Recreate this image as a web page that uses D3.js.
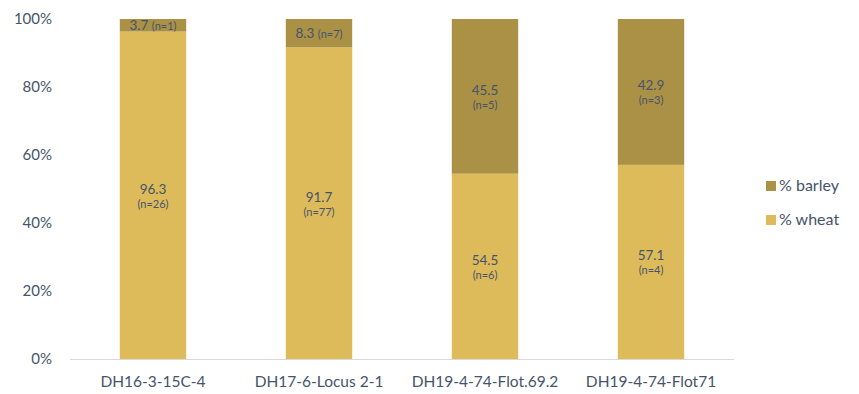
<!DOCTYPE html>
<html>
<head>
<meta charset="utf-8">
<script src="https://cdn.jsdelivr.net/npm/d3@7"></script>
<style>
  body { margin: 0; background: #fff; }
  svg { display: block; font-family: Lato, "Open Sans", sans-serif; }
</style>
</head>
<body>
<svg id="chart" width="859" height="394"></svg>
<script>
// chart data
const categories = ["DH16-3-15C-4", "DH17-6-Locus 2-1", "DH19-4-74-Flot.69.2", "DH19-4-74-Flot71"];
const wheatPct = [96.3, 91.7, 54.5, 57.1];
const barleyPct = [3.7, 8.3, 45.5, 42.9];
const wheatN = [26, 77, 6, 4];
const barleyN = [1, 7, 5, 3];
const yTicks = [0, 20, 40, 60, 80, 100];
const seriesNames = ["% barley", "% wheat"];

const colors = { wheat: "#DDBA5A", barley: "#AA9145" };
const textColor = "#46546A";

const margin = { left: 70, right: 125, top: 19, bottom: 35 };
const width = 859, height = 394;
const drawWidth = width - margin.left - margin.right;
const drawHeight = height - margin.top - margin.bottom;

const svg = d3.select("#chart");
const g = svg.append("g").attr("transform", `translate(${margin.left},${margin.top})`);

const x = d3.scaleBand().domain(categories).range([0, drawWidth]).paddingInner(0.6).paddingOuter(0.3);
const y = d3.scaleLinear().domain([0, 100]).range([drawHeight, 0]);

const rows = categories.map((c, i) => ({
  cat: c, wheat: wheatPct[i], barley: barleyPct[i], wn: wheatN[i], bn: barleyN[i]
}));

// wheat segments (bottom)
g.selectAll("rect.wheat").data(rows).enter().append("rect")
  .attr("class", "wheat")
  .attr("x", d => x(d.cat))
  .attr("width", x.bandwidth())
  .attr("y", d => y(d.wheat))
  .attr("height", d => y(0) - y(d.wheat))
  .attr("fill", colors.wheat);

// barley segments (top)
g.selectAll("rect.barley").data(rows).enter().append("rect")
  .attr("class", "barley")
  .attr("x", d => x(d.cat))
  .attr("width", x.bandwidth())
  .attr("y", d => y(d.wheat + d.barley))
  .attr("height", d => y(d.wheat) - y(d.wheat + d.barley))
  .attr("fill", colors.barley);

// y axis labels
const yAxis = g.append("g").call(d3.axisLeft(y).tickValues(yTicks).tickFormat(d => d + "%").tickSize(0).tickPadding(18));
yAxis.select(".domain").remove();
yAxis.selectAll("text").attr("fill", textColor).style("font-size", "15px").style("font-family", "Lato, sans-serif");

// x axis
const xAxis = g.append("g").attr("transform", `translate(0,${drawHeight})`)
  .call(d3.axisBottom(x).tickSize(0).tickPadding(17));
xAxis.select(".domain").attr("stroke", "#D9D9D9").attr("d", `M0,0.5H${drawWidth}`);
xAxis.selectAll("text").attr("fill", textColor).style("font-size", "15.5px").style("font-family", "Lato, sans-serif");

// value labels, two lines, centred on the segment
const cx = d => x(d.cat) + x.bandwidth() / 2;
function twoLine(sel, val, n, mid) {
  sel.append("text").attr("x", cx).attr("y", d => mid(d) - 1.5)
    .attr("text-anchor", "middle").attr("fill", textColor).style("font-size", "13.5px")
    .text(val);
  sel.append("text").attr("x", cx).attr("y", d => mid(d) + 12.5)
    .attr("text-anchor", "middle").attr("fill", textColor).style("font-size", "11px")
    .text(d => `(n=${n(d)})`);
}

const wl = g.append("g").selectAll("g").data(rows).enter().append("g");
twoLine(wl, d => d.wheat.toFixed(1), d => d.wn, d => (y(0) + y(d.wheat)) / 2);

// thin barley segments get a single-line label
const bigBarley = rows.filter(d => d.barley >= 20);
const smallBarley = rows.filter(d => d.barley < 20);
const bl = g.append("g").selectAll("g").data(bigBarley).enter().append("g");
twoLine(bl, d => d.barley.toFixed(1), d => d.bn, d => (y(d.wheat) + y(100)) / 2);

const sl = g.append("g").selectAll("text").data(smallBarley).enter().append("text")
  .attr("x", cx).attr("y", d => (y(d.wheat) + y(100)) / 2 + 5)
  .attr("text-anchor", "middle").attr("fill", textColor);
sl.append("tspan").style("font-size", "13.5px").text(d => d.barley.toFixed(1) + " ");
sl.append("tspan").style("font-size", "11px").text(d => `(n=${d.bn})`);

// legend
const legend = svg.append("g").attr("transform", "translate(766,181)");
const lItems = legend.selectAll("g").data(seriesNames).enter().append("g")
  .attr("transform", (d, i) => `translate(0,${i * 34})`);
lItems.append("rect").attr("width", 10).attr("height", 10)
  .attr("fill", (d, i) => i === 0 ? colors.barley : colors.wheat);
lItems.append("text").attr("x", 13).attr("y", 10).attr("fill", textColor)
  .style("font-size", "16px").text(d => d);
</script>
</body>
</html>
